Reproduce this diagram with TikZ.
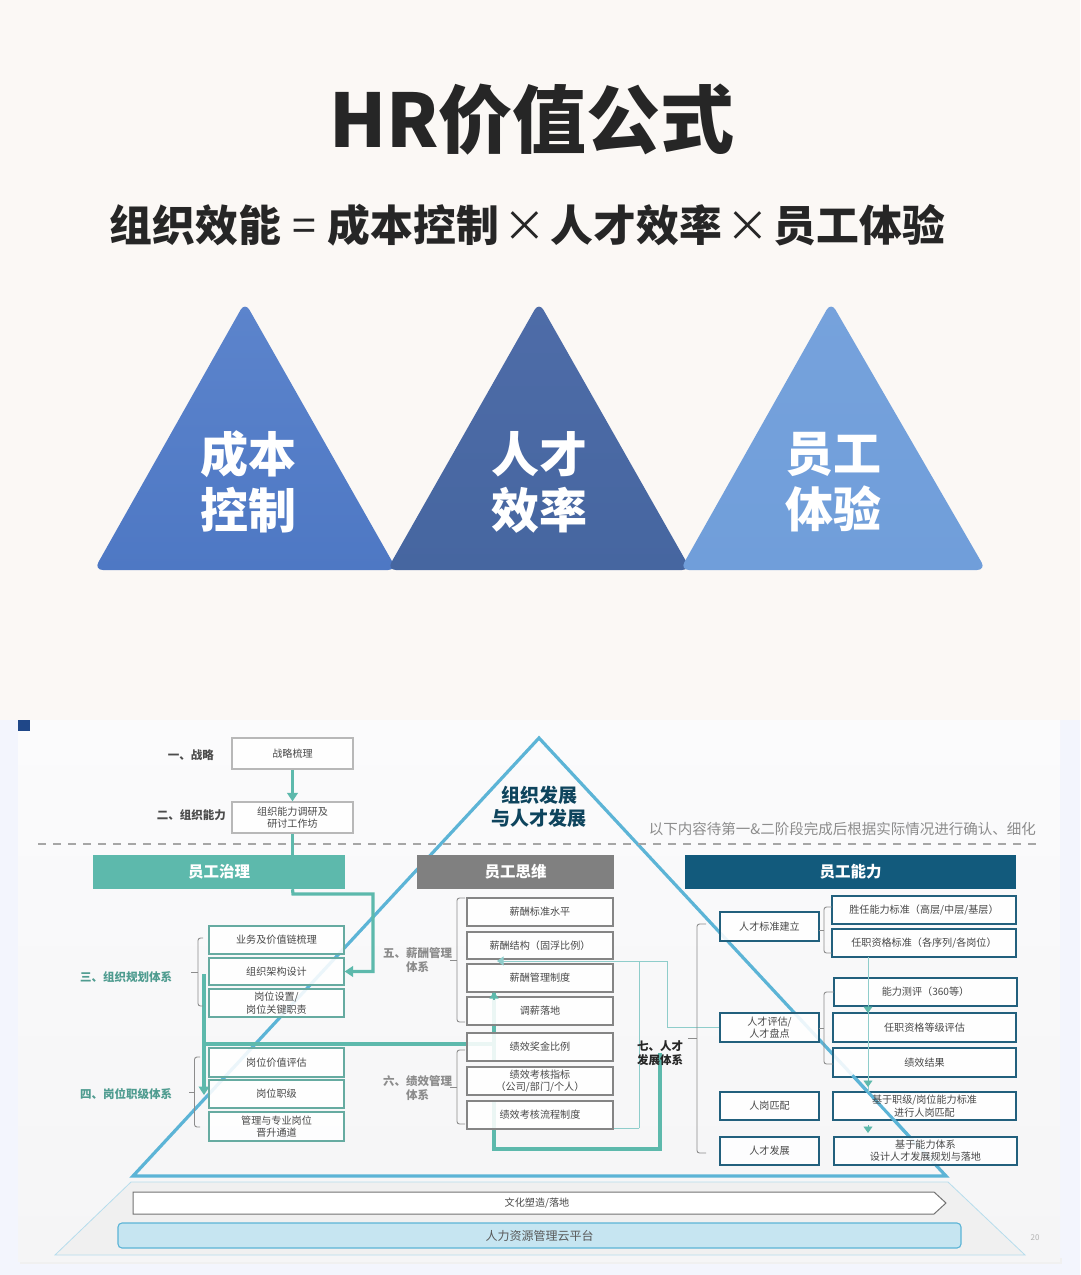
\documentclass[tikz,border=0pt]{standalone}
\usepackage{fontspec}
\setmainfont{Noto Sans CJK SC}
\usetikzlibrary{arrows.meta,calc}
\definecolor{pagebg}{HTML}{FBF8F5}
\definecolor{outerbg}{HTML}{F3F5FD}
\definecolor{panelt}{HTML}{FBFBFC}
\definecolor{panelb}{HTML}{F5F5F6}
\definecolor{squarec}{HTML}{1F4788}
\definecolor{tealc}{HTML}{5DB9AC}
\definecolor{teald}{HTML}{4F9C90}
\definecolor{thinc}{HTML}{8FCDCB}
\definecolor{skyc}{HTML}{5CB4D6}
\definecolor{capgray}{HTML}{808080}
\definecolor{capblue}{HTML}{125A7C}
\definecolor{boxtxt}{HTML}{484848}
\definecolor{brk}{HTML}{8C8C8C}
\definecolor{triat}{HTML}{5C84CC}
\definecolor{triab}{HTML}{4E78C4}
\definecolor{tribt}{HTML}{4E6CA8}
\definecolor{tribb}{HTML}{4666A0}
\definecolor{trict}{HTML}{76A2DC}
\definecolor{tricb}{HTML}{709EDA}
\tikzset{
 x=1pt,y=-1pt,
 boxbase/.style={draw,fill=white,fill opacity=.88,text opacity=1,inner sep=0pt,align=center,text=boxtxt,line width=1.1pt,font=\fontsize{10.1}{12.3}\selectfont},
 topbox/.style={boxbase,draw=black!28},
 leftbox/.style={boxbase,draw=tealc!75!gray},
 midbox/.style={boxbase,draw=black!48},
 rightbox/.style={boxbase,draw=capblue!85!gray,line width=1.3pt},
 capbox/.style={inner sep=0pt,text=white,font=\fontsize{15.5}{18}\selectfont\bfseries},
 tealthick/.style={draw=tealc,line width=3.2pt},
 tealthin/.style={draw=thinc,line width=1pt},
 tip/.style={-{Triangle[length=8.5pt,width=10.5pt]}},
 smalltip/.style={-{Triangle[length=6.5pt,width=9pt]}},
 bracket/.style={draw=brk,line width=.9pt,rounded corners=2.5pt},
 lab/.style={inner sep=0pt,font=\fontsize{11.5}{15}\selectfont\bfseries,align=left},
 gtri/.style={rounded corners=9pt},
 tritxt/.style={inner sep=0pt,align=center,text=white,font=\fontsize{48}{56}\selectfont\bfseries},
}
\newcommand{\bx}[7]{%
 \pgfmathsetmacro{\bw}{#4-#2}\pgfmathsetmacro{\bh}{#5-#3}%
 \node[#6,minimum width=\bw pt,minimum height=\bh pt] (#1) at ({(#2+#4)/2},{(#3+#5)/2}) {#7};}
\begin{document}
\begin{tikzpicture}
\useasboundingbox (0,0) rectangle (1080,1275);
\fill[pagebg] (0,0) rectangle (1080,720);
\fill[outerbg] (0,720) rectangle (1080,1275);
\fill[black!6] (20,1258) rectangle (1062,1264);
\shade[top color=panelt,bottom color=panelb] (18,720) rectangle (1060,1261);
\fill[squarec] (18,720) rectangle (30,731);

% title
\node[inner sep=0pt,text=black!85,font=\fontsize{74}{80}\selectfont\bfseries] (title) at (532,120) {HR价值公式};
\node[inner sep=0pt,text=black!85,font=\fontsize{42.8}{50}\selectfont\bfseries] (formula) at (527.5,225) {组织效能\hspace{11.5pt}{\mdseries =}\hspace{11.5pt}成本控制\hspace{4.5pt}{\mdseries ×}\hspace{4.5pt}人才效率\hspace{4.5pt}{\mdseries ×}\hspace{4.5pt}员工体验};

% triangles
\shade[gtri,top color=triat,bottom color=triab] (245,302) -- (397,570) -- (94,570) -- cycle;
\shade[gtri,top color=tribt,bottom color=tribb] (539,302) -- (691,570) -- (387,570) -- cycle;
\shade[gtri,top color=trict,bottom color=tricb] (831,302) -- (986,570) -- (680,570) -- cycle;
\node[tritxt] (t1) at (248,482) {成本\\控制};
\node[tritxt] (t2) at (539,482) {人才\\效率};
\node[tritxt] (t3) at (833,482) {员工\\体验};

% foundation
\filldraw[fill=black!6,draw=skyc!45!white,line width=.8pt] (131,1182) -- (948,1182) -- (1025,1255) -- (55,1255) -- cycle;
\filldraw[fill=white,draw=black!55,line width=1pt] (133,1192) -- (934,1192) -- (946,1203) -- (934,1214) -- (133,1214) -- cycle;
\node[inner sep=0pt,text=boxtxt,font=\fontsize{10.1}{12}\selectfont] (culture) at (537,1203) {文化塑造/落地};
\bx{cloud}{118}{1223}{961}{1248}{draw=skyc,fill=skyc!35!white,rounded corners=4pt,line width=1.1pt,inner sep=0pt,text=black!65,font=\fontsize{12}{14}\selectfont}{人力资源管理云平台}
\node[inner sep=0pt,text=black!30,font=\fontsize{8}{9}\selectfont] (pnum) at (1035,1238) {20};

% pyramid
\coordinate (apex) at (539,738);
\coordinate (pl) at (133,1176);
\coordinate (pr) at (946,1176);
\draw[skyc,line width=3.2pt,line join=miter] (apex) -- (pr) -- (pl) -- cycle;

% connectors under the boxes
\draw[tealthin] (639,1128) -- (639,961);
\coordinate (v1) at (204,974);
\coordinate (v2) at (204,1044);
\coordinate (v3) at (204,1095);
\coordinate (m1) at (494,1044);
\coordinate (m2) at (494,992);
\coordinate (m3) at (494,1101);
\coordinate (m4) at (494,1149);
\coordinate (m5) at (660,1149);
\coordinate (m6) at (660,1053);
\draw[tealthick] (v1) -- (v2);
\draw[tealthick,tip] (v2) -- (v3);
\draw[tealthick] (v2) -- (m1);
\draw[tealthick] (494,1061) -- (m2);
\draw[tealthick,line join=miter] (m3) -- (m4) -- (m5) -- (m6);

% labels
\node[lab,text=black!70,anchor=east] (l1) at (214,755) {一、战略};
\node[lab,text=black!70,anchor=east] (l2) at (226,815) {二、组织能力};
\node[lab,text=teald,anchor=west] (l3) at (80,977) {三、组织规划体系};
\node[lab,text=teald,anchor=west] (l4) at (80,1094) {四、岗位职级体系};
\node[lab,text=black!45,anchor=west,font=\fontsize{11.5}{14}\selectfont\bfseries] (l5) at (383,960.5) {五、薪酬管理\\\phantom{五、}体系};
\node[lab,text=black!45,anchor=west,font=\fontsize{11.5}{14}\selectfont\bfseries] (l6) at (383,1088.5) {六、绩效管理\\\phantom{六、}体系};
\node[lab,text=black!85,anchor=center,align=center,font=\fontsize{11.5}{14}\selectfont\bfseries] (l7) at (660,1053) {七、人才\\发展体系};
\node[inner sep=0pt,align=center,text=capblue!75!black,font=\fontsize{19}{23}\selectfont\bfseries] (orgdev) at (539,807) {组织发展\\与人才发展};
\node[inner sep=0pt,anchor=east,text=black!45,font=\fontsize{14.5}{16}\selectfont] (note) at (1036,829) {以下内容待第一\&二阶段完成后根据实际情况进行确认、细化};

% dashed separator
\coordinate (dl) at (38,844);
\coordinate (dr) at (1036,844);
\draw[black!35,line width=1.1pt,dash pattern=on 8pt off 7pt] (dl) -- (dr);

% header bars
\bx{h1}{93}{855}{345}{889}{capbox,fill=tealc}{员工治理}
\bx{h2}{417}{855}{614}{889}{capbox,fill=capgray}{员工思维}
\bx{h3}{685}{855}{1016}{889}{capbox,fill=capblue}{员工能力}

% top boxes
\bx{b1}{232}{738}{353}{769}{topbox}{战略梳理}
\bx{b2}{232}{802}{353}{833}{topbox}{组织能力调研及\\研讨工作坊}

% left boxes
\bx{a1}{209}{926}{344}{954}{leftbox}{业务及价值链梳理}
\bx{a2}{209}{958}{344}{985}{leftbox}{组织架构设计}
\bx{a3}{209}{989}{344}{1017}{leftbox}{岗位设置/\\岗位关键职责}
\bx{a4}{209}{1048}{344}{1077}{leftbox}{岗位价值评估}
\bx{a5}{209}{1080}{344}{1108}{leftbox}{岗位职级}
\bx{a6}{209}{1112}{344}{1141}{leftbox}{管理与专业岗位\\晋升通道}

% middle boxes
\bx{c1}{467}{898}{613}{926}{midbox}{薪酬标准水平}
\bx{c2}{467}{932}{613}{959}{midbox}{薪酬结构（固浮比例）}
\bx{c3}{467}{964}{613}{992}{midbox}{薪酬管理制度}
\bx{c4}{467}{997}{613}{1025}{midbox}{调薪落地}
\bx{c5}{467}{1033}{613}{1061}{midbox}{绩效奖金比例}
\bx{c6}{467}{1067}{613}{1095}{midbox}{绩效考核指标\\（公司/部门/个人）}
\bx{c7}{467}{1101}{613}{1129}{midbox}{绩效考核流程制度}

% right boxes
\bx{d1}{720}{912}{819}{941}{rightbox}{人才标准建立}
\bx{d2}{720}{1013}{819}{1042}{rightbox}{人才评估/\\人才盘点}
\bx{d3}{720}{1092}{819}{1120}{rightbox}{人岗匹配}
\bx{d4}{720}{1137}{819}{1165}{rightbox}{人才发展}
\bx{e1}{832}{896}{1016}{924}{rightbox}{胜任能力标准（高层/中层/基层）}
\bx{e2}{832}{929}{1016}{957}{rightbox}{任职资格标准（各序列/各岗位）}
\bx{e3}{834}{978}{1017}{1006}{rightbox}{能力测评（360等）}
\bx{e4}{833}{1013}{1016}{1042}{rightbox}{任职资格等级评估}
\bx{e5}{833}{1048}{1016}{1077}{rightbox}{绩效结果}
\bx{e6}{833}{1092}{1016}{1120}{rightbox}{}
\bx{e7}{834}{1137}{1017}{1165}{rightbox}{基于能力体系\\设计人才发展规划与落地}

% pyramid edge seen across the lower right box
\draw[skyc,line width=3pt] ($(apex)!0.77!(pr)$) -- ($(apex)!0.905!(pr)$);
\node[inner sep=0pt,text=boxtxt,align=center,font=\fontsize{10.1}{12.3}\selectfont] (e6t) at (e6) {基于职级/岗位能力标准\\进行人岗匹配};

% connectors
\draw[tealthick,tip] (b1) -- (b2);
\draw[tealthick] (b2) -- (b2 |- h1.north);
\coordinate (r1) at (293,894);
\coordinate (r2) at (373,894);
\coordinate (r3) at (373,971.5);
\draw[tealthick,tip,line join=miter] (b2 |- h1.south) -- (r1) -- (r2) -- (r3) -- (a2.east);
\draw[tealthin,smalltip] (d2.west) -| (667,961) -- (497,961);
\draw[tealthin] (639,1128) -- (c7.east |- 0,1128);
\draw[tealc,smalltip,line width=1.2pt] (494,1000) -- (m2);
\draw[tealthin] (868,957) -- (868,1092);
\coordinate (s1) at (868,1006);
\coordinate (s2) at (868,1013);
\coordinate (s3) at (868,1078);
\coordinate (s4) at (868,1087);
\coordinate (s5) at (868,1125);
\coordinate (s6) at (868,1133);
\draw[tealc,smalltip,line width=.9pt] (s1) -- (s2);
\draw[tealc,smalltip,line width=.9pt] (s3) -- (s4);
\draw[tealc,smalltip,line width=.9pt] (s5) -- (s6);

% brackets
\draw[bracket] (203,938) -- (198,938) -- (198,1006) -- (203,1006);
\draw[brk,line width=.9pt] (191,972) -- (198,972);
\draw[bracket] (200,1057) -- (194.5,1057) -- (194.5,1127) -- (200,1127);
\draw[brk,line width=.9pt] (189,1092) -- (194.5,1092);
\draw[bracket] (465,898) -- (457,898) -- (457,1022) -- (465,1022);
\draw[brk,line width=.9pt] (450,960) -- (457,960);
\draw[bracket] (465,1050) -- (457,1050) -- (457,1124) -- (465,1124);
\draw[brk,line width=.9pt] (450,1087) -- (457,1087);
\draw[bracket] (706,924) -- (697,924) -- (697,1153) -- (706,1153);
\draw[brk,line width=.9pt] (688,1038) -- (697,1038);
\draw[bracket] (832,907) -- (824,907) -- (824,953) -- (832,953);
\draw[brk,line width=.9pt] (819,930) -- (824,930);
\draw[bracket] (834,992) -- (824,992) -- (824,1064) -- (833,1064);
\draw[brk,line width=.9pt] (819,1028) -- (824,1028);
\end{tikzpicture}
\end{document}
